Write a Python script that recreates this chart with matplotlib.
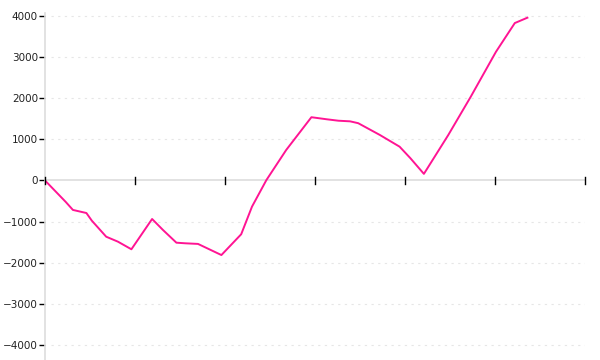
import matplotlib.pyplot as plt
import numpy as np

# values (x in tick units, ticks every 1)
x_vals = [0.0, 0.23, 0.31, 0.46, 0.52, 0.68, 0.81, 0.96, 1.19, 1.31, 1.46, 1.56,
          1.70, 1.96, 2.18, 2.30, 2.46, 2.68, 2.96, 3.13, 3.26, 3.39, 3.48, 3.72,
          3.94, 4.06, 4.21, 4.48, 4.73, 5.01, 5.22, 5.36]
y_vals = [0, -520, -715, -790, -975, -1365, -1485, -1670, -935, -1200, -1510, -1525,
          -1540, -1810, -1305, -635, 10, 740, 1535, 1485, 1450, 1435, 1390, 1105,
          820, 540, 160, 1100, 2030, 3120, 3820, 3950]
y_ticks = [-4000, -3000, -2000, -1000, 0, 1000, 2000, 3000, 4000]
x_ticks = [0, 1, 2, 3, 4, 5, 6]

fig = plt.figure(figsize=(6, 3.6), dpi=100)
ax = fig.add_axes([0.075, 0.0, 0.9, 0.964])

ax.plot(x_vals, y_vals, color='#ff1493', linewidth=1.4, zorder=3)

ax.set_xlim(0, 6)
ax.set_ylim(-4357, 4065)

# dotted horizontal grid
for yt in y_ticks:
    if yt != 0:
        ax.axhline(yt, xmin=0.012, color='#e6e6e6', linestyle=(0, (2, 4)), linewidth=0.8, zorder=1)
ax.axhline(0, color='#dddddd', linewidth=1.2, zorder=2)

for side in ['top', 'right', 'bottom']:
    ax.spines[side].set_visible(False)
ax.spines['left'].set_color('#dddddd')
ax.spines['left'].set_linewidth(1.2)

ax.set_yticks(y_ticks)
ax.set_yticklabels([str(v).replace('-', '\u2212') for v in y_ticks], fontsize=7.5, color='#222222')
ax.tick_params(axis='y', length=4, width=1, color='black', pad=1)

ax.set_xticks([])
for xt in x_ticks:
    ax.plot([xt, xt], [-90, 90], color='black', linewidth=1, zorder=4, clip_on=False)

fig.savefig('out.png', dpi=100)
